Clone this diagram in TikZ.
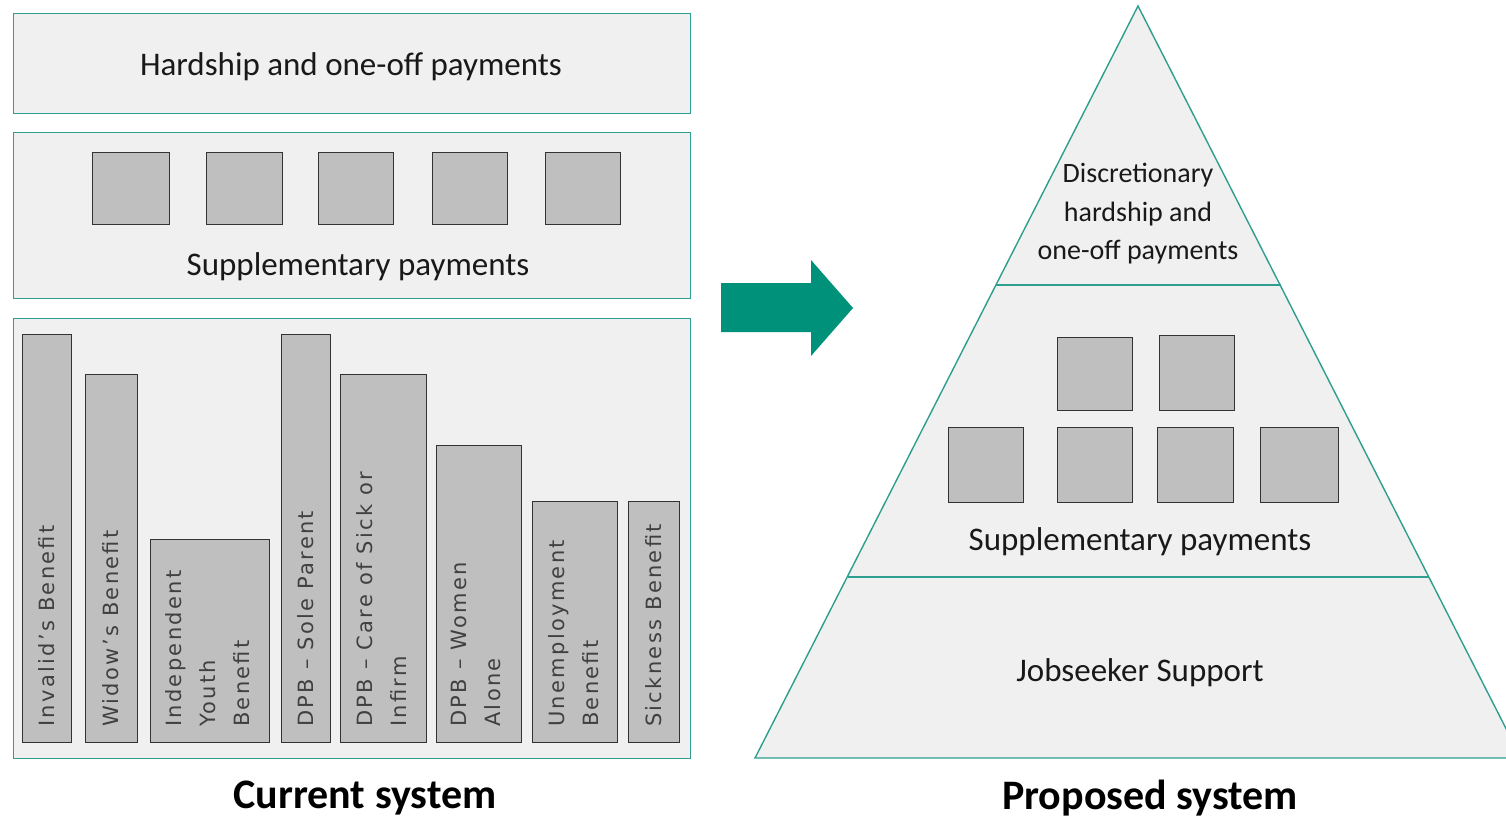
\documentclass[tikz,border=0pt]{standalone}
\usepackage{fontspec}
\setmainfont{Carlito}
\newfontfamily\barfont[LetterSpace=11]{DejaVu Sans}
\usetikzlibrary{positioning}
\definecolor{tealline}{HTML}{2E9E8E}
\definecolor{tealarrow}{HTML}{00917A}
\definecolor{panelgrey}{HTML}{F0F0F0}
\definecolor{blockgrey}{HTML}{BFBFBF}

\begin{document}
\begin{tikzpicture}[x=1pt, y=-1pt,
  panel/.style={draw=tealline, line width=1.4pt, fill=panelgrey, inner sep=0, anchor=north west},
  block/.style={draw=black!80, line width=1.3pt, fill=blockgrey, inner sep=0, anchor=north west},
  bar/.style={draw=black!80, line width=1.3pt, fill=blockgrey, inner sep=0, anchor=south west, minimum height=#1},
  bartext/.style={rotate=90, anchor=west, inner sep=0, align=left, text=black!75, font=\barfont\fontsize{21}{34}\selectfont},
  label/.style={anchor=base, inner sep=0, text=black!90, font=\fontsize{33}{38}\selectfont},
  caption/.style={anchor=base, inner sep=0, text=black, font=\bfseries\fontsize{42}{46}\selectfont}]
  \useasboundingbox (0,0) rectangle (1506,820);
  \clip (0,0) rectangle (1506,820);

  % current system
  \node[panel, minimum width=677, minimum height=100] (hardship) at (13,13) {};
  \node[label] (hardshiptext) at (351,75) {Hardship and one-off payments};
  \node[panel, minimum width=677, minimum height=166] (supp) at (13,132) {};
  \node[block, minimum width=77, minimum height=72] (s1) at (92,152) {};
  \node[block, minimum width=76, minimum height=72] (s2) at (206,152) {};
  \node[block, minimum width=75, minimum height=72] (s3) at (318,152) {};
  \node[block, minimum width=75, minimum height=72] (s4) at (432,152) {};
  \node[block, minimum width=75, minimum height=72] (s5) at (545,152) {};
  \node[label] (supptext) at (358,275) {Supplementary payments};
  \node[panel, minimum width=677, minimum height=440] (main) at (13,318) {};

  \node[bar=408, minimum width=49] (invalid) at (22,743) {};
  \node[bar=368, minimum width=52] (widow) at (85,743) {};
  \node[bar=203, minimum width=119] (youth) at (150,743) {};
  \node[bar=408, minimum width=49] (sole) at (281,743) {};
  \node[bar=368, minimum width=86] (carer) at (340,743) {};
  \node[bar=297, minimum width=85] (women) at (436,743) {};
  \node[bar=241, minimum width=85] (unemployed) at (532,743) {};
  \node[bar=241, minimum width=51] (sickness) at (628,743) {};

  \node[bartext] at (46.5,727) {Invalid’s Benefit};
  \node[bartext] at (111,727) {Widow’s Benefit};
  \node[bartext] at (208,727) {Independent\\Youth\\Benefit};
  \node[bartext] at (305.5,727) {DPB – Sole Parent};
  \node[bartext] at (382,727) {DPB – Care of Sick or\\Infirm};
  \node[bartext] at (476,727) {DPB – Women\\Alone};
  \node[bartext] at (574,727) {Unemployment\\Benefit};
  \node[bartext] at (653.5,727) {Sickness Benefit};

  \node[caption] (current) at (365,808) {Current system};

  % arrow
  \fill[tealarrow] (721,283) -- (811,283) -- (811,260) -- (853,308) -- (811,356) -- (811,332) -- (721,332) -- cycle;

  % proposed system
  \coordinate (apex) at (1138,6);
  \coordinate (baseleft) at (755,758);
  \coordinate (baseright) at (1521,758);
  \draw[tealline, line width=1.4pt, fill=panelgrey, line join=miter] (apex) -- (baseleft) -- (baseright) -- cycle;
  \draw[tealline, line width=1.4pt] (996,285) -- (1281,285);
  \draw[tealline, line width=1.4pt] (848,577) -- (1429,577);

  \node[anchor=north, inner sep=0, align=center, text=black!90, font=\fontsize{28}{38.5}\selectfont] (disc) at (1138,163) {Discretionary\\hardship and\\one-off payments};

  \node[block, minimum width=75, minimum height=73] (p1) at (1057,337) {};
  \node[block, minimum width=75, minimum height=75] (p2) at (1159,335) {};
  \node[block, minimum width=75, minimum height=75] (p3) at (948,427) {};
  \node[block, minimum width=75, minimum height=75] (p4) at (1057,427) {};
  \node[block, minimum width=76, minimum height=75] (p5) at (1157,427) {};
  \node[block, minimum width=78, minimum height=75] (p6) at (1260,427) {};
  \node[label] (pyrsupp) at (1140,550) {Supplementary payments};
  \node[label] (jobseeker) at (1140,681) {Jobseeker Support};

  \node[caption] (proposed) at (1150,809) {Proposed system};
\end{tikzpicture}
\end{document}
